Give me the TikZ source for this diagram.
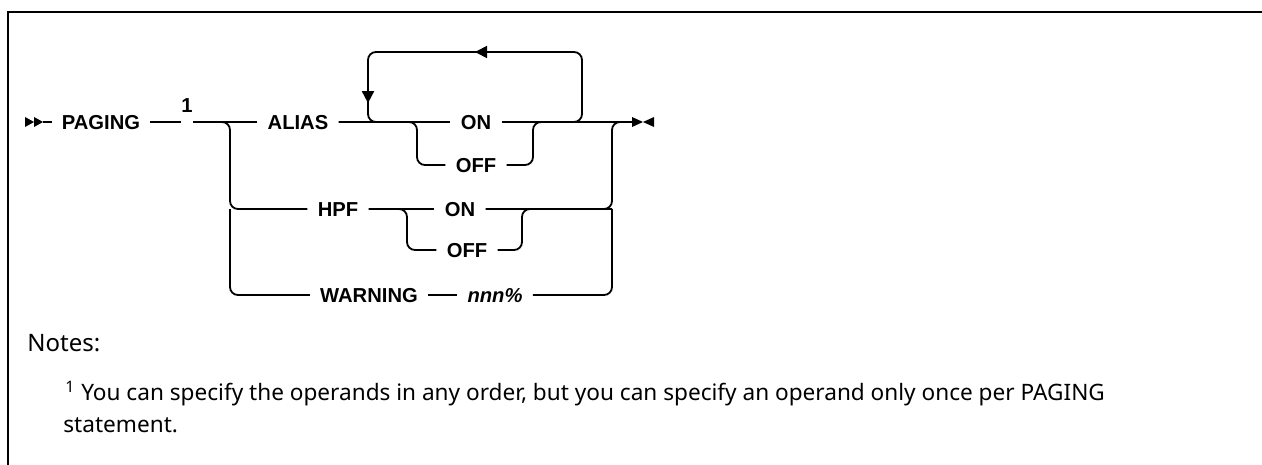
\documentclass[tikz,border=0pt]{standalone}
\usepackage{fontspec}
\setmainfont{Noto Sans}
\newfontfamily\railfont{Liberation Sans}
\usetikzlibrary{positioning,arrows.meta,decorations.markings}

\tikzset{
  rail/.style={line width=0.9pt, rounded corners=4pt},
  kw/.style={font=\railfont\bfseries\fontsize{10.1}{12}\selectfont,
    inner xsep=5pt, inner ysep=0pt, text height=7.2pt, text depth=0pt},
  note/.style={font=\fontsize{11.3}{13}\selectfont, inner sep=0pt},
  loopmark/.style={postaction={decorate}, decoration={markings,
    mark=at position 0.5 with {\arrow{Triangle[length=6pt,width=6pt]}},
    mark=at position 0.853 with {\arrow{Triangle[length=6pt,width=6pt]}}}},
}

\begin{document}
\begin{tikzpicture}[x=0.5pt,y=-0.5pt]
  \useasboundingbox (0,0) rectangle (1262,465);
  \draw[line width=1.2pt] (1262,12) -- (8,12) -- (8,465);

  % keywords
  \node[kw] (paging) at (101,122) {PAGING};
  \node[kw, inner xsep=0pt] (ref) at (187,105) {1};
  \node[kw] (alias) at (298,122) {ALIAS};
  \node[kw] (aon) at (476,122) {ON};
  \node[kw] (aoff) at (476,165) {OFF};
  \node[kw] (hpf) at (338,209) {HPF};
  \node[kw] (hon) at (460,209) {ON};
  \node[kw] (hoff) at (467,250) {OFF};
  \node[kw] (warn) at (369,295) {WARNING};
  \node[kw, font=\railfont\bfseries\itshape\fontsize{10.1}{12}\selectfont] (nnn) at (495,295) {nnn\%};

  % junctions
  \coordinate (in) at (43,122);
  \coordinate (ls) at (230,122);
  \coordinate (la) at (368,122);
  \coordinate (as) at (417,122);
  \coordinate (aj) at (533,122);
  \coordinate (ra) at (582,122);
  \coordinate (lt) at (368,52);
  \coordinate (rs) at (612,122);
  \coordinate (out) at (632,122);
  \coordinate (hs) at (407,209);
  \coordinate (hj) at (522,209);

  % start and end marks
  \fill (in) -- ++(-9,-5) -- ++(0,10) -- cycle;
  \fill ([xshift=-4.5pt]in) -- ++(-9,-5) -- ++(0,10) -- cycle;
  \fill (out) ++(0,-5) -- ++(11,5) -- ++(-11,5) -- cycle;
  \fill (out) ++(22,-5) -- ++(-11,5) -- ++(11,5) -- cycle;

  % main line
  \draw[rail] (in) -- (paging);
  \draw[rail] (paging) -- (paging.east -| ref.west);
  \draw[rail] (ref.east |- alias) -- (alias);
  \draw[rail] (alias) -- (aon);
  \draw[rail] (aon) -- (out);

  % ALIAS choice and repeat loop
  \draw[rail] (alias.east) -- (as) |- (aoff);
  \draw[rail] (aoff) -| (aj) -- (ra);
  \draw[rail, loopmark] (aj) -- (ra) |- (lt) -- (la) -- (as);

  % HPF and WARNING
  \draw[rail] (ref.east |- ls) -- (ls) |- (hpf);
  \draw[rail] (hpf -| ls) |- (warn);
  \draw[rail] (hpf) -- (hon);
  \draw[rail] (hpf.east) -- (hs) |- (hoff);
  \draw[rail] (hoff) -| (hj) -- (hon -| rs);
  \draw[rail] (hon) -- (hon -| rs) |- (out);
  \draw[rail] (warn) -- (nnn);
  \draw[rail] (nnn) -- (warn -| rs) -- (hon -| rs);

  % notes
  \node[note, font=\fontsize{12}{14}\selectfont, anchor=base west] (notes) at (27,351) {Notes:};
  \node[note, anchor=base west] (fn1) at (65,400) {\textsuperscript{1} You can specify the operands in any order, but you can specify an operand only once per PAGING};
  \node[note, anchor=base west] (fn2) at (63,432) {statement.};
\end{tikzpicture}
\end{document}
